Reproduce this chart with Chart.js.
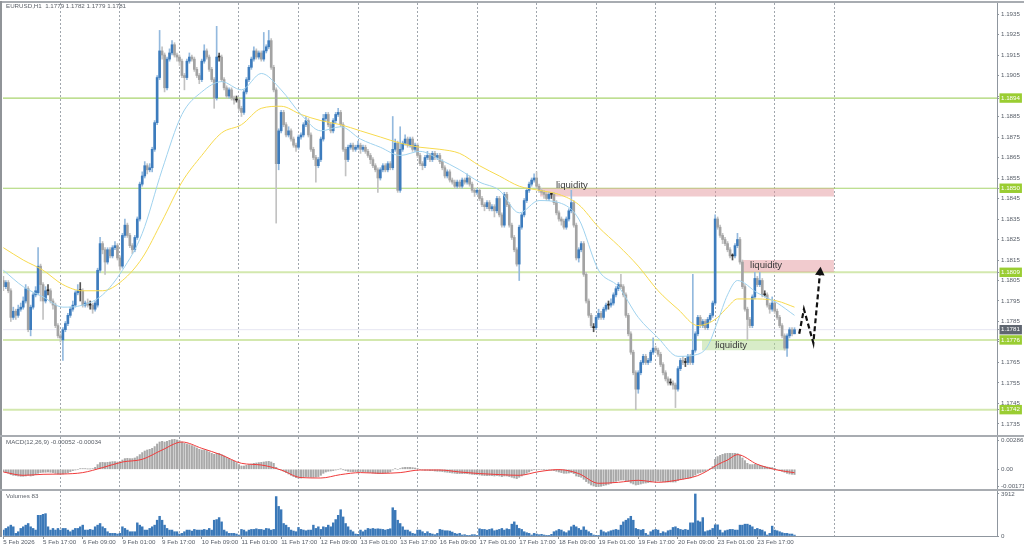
<!DOCTYPE html>
<html>
<head>
<meta charset="utf-8">
<title>EURUSD,H1</title>
<script src="https://cdn.jsdelivr.net/npm/chart.js@4.4.1/dist/chart.umd.min.js"></script>
<style>
  html, body { margin: 0; padding: 0; background: #fff; }
  #wrap { position: relative; width: 1024px; height: 551px; overflow: hidden; background: #fff; }
  #wrap canvas { position: absolute; left: 0; }
  .rule { position: absolute; background: #a8acb1; }
</style>
</head>
<body>
<div id="wrap">
  <canvas id="priceChart" width="1024" height="435" style="top:0"></canvas>
  <canvas id="macdChart" width="1024" height="52" style="top:437px"></canvas>
  <canvas id="volumeChart" width="1024" height="60" style="top:491px"></canvas>
  <div class="rule" style="left:0;top:1px;width:1024px;height:2px"></div>
  <div class="rule" style="left:0;top:1px;width:2px;height:536px;background:#909498"></div>
  <div class="rule" style="left:0;top:435px;width:1024px;height:2px"></div>
  <div class="rule" style="left:0;top:489px;width:1024px;height:2px"></div>
</div>
<script>
// EURUSD H1 candles, one entry per bar
const opens = [
  1.1805,1.1802,1.1804,1.1800,1.1787,1.1790,1.1788,1.1791,1.1792,1.1795,
  1.1801,1.1781,1.1792,1.1798,1.1799,1.1812,1.1803,1.1795,1.1800,1.1800,
  1.1795,1.1793,1.1783,1.1778,1.1776,1.1781,1.1784,1.1788,1.1791,1.1793,
  1.1799,1.1800,1.1800,1.1793,1.1794,1.1793,1.1793,1.1791,1.1793,1.1810,
  1.1823,1.1820,1.1814,1.1820,1.1817,1.1821,1.1822,1.1816,1.1812,1.1827,
  1.1832,1.1827,1.1822,1.1820,1.1826,1.1835,1.1852,1.1856,1.1861,1.1859,
  1.1860,1.1869,1.1882,1.1904,1.1917,1.1915,1.1899,1.1913,1.1916,1.1920,
  1.1915,1.1914,1.1912,1.1905,1.1904,1.1912,1.1914,1.1913,1.1908,1.1905,
  1.1903,1.1912,1.1917,1.1914,1.1908,1.1903,1.1894,1.1914,1.1914,1.1903,
  1.1899,1.1895,1.1898,1.1894,1.1893,1.1893,1.1889,1.1887,1.1897,1.1903,
  1.1909,1.1913,1.1917,1.1914,1.1916,1.1913,1.1917,1.1919,1.1922,1.1909,
  1.1898,1.1862,1.1878,1.1887,1.1881,1.1876,1.1878,1.1874,1.1871,1.1870,
  1.1875,1.1876,1.1881,1.1883,1.1876,1.1869,1.1865,1.1861,1.1864,1.1874,
  1.1884,1.1886,1.1881,1.1878,1.1883,1.1886,1.1887,1.1881,1.1869,1.1864,
  1.1870,1.1871,1.1869,1.1870,1.1871,1.1869,1.1870,1.1868,1.1866,1.1864,
  1.1861,1.1859,1.1855,1.1859,1.1861,1.1859,1.1862,1.1860,1.1869,1.1872,
  1.1849,1.1869,1.1872,1.1874,1.1871,1.1874,1.1869,1.1871,1.1866,1.1862,
  1.1861,1.1865,1.1866,1.1864,1.1867,1.1865,1.1866,1.1863,1.1860,1.1856,
  1.1858,1.1854,1.1853,1.1851,1.1853,1.1851,1.1854,1.1853,1.1855,1.1852,
  1.1849,1.1848,1.1849,1.1845,1.1842,1.1841,1.1843,1.1840,1.1841,1.1839,
  1.1845,1.1837,1.1832,1.1847,1.1842,1.1832,1.1826,1.1820,1.1813,1.1831,
  1.1837,1.1844,1.1849,1.1852,1.1854,1.1855,1.1851,1.1849,1.1848,1.1847,
  1.1845,1.1847,1.1847,1.1843,1.1838,1.1835,1.1834,1.1831,1.1835,1.1839,
  1.1843,1.1832,1.1816,1.1820,1.1823,1.1808,1.1795,1.1788,1.1782,1.1782,
  1.1787,1.1789,1.1787,1.1791,1.1793,1.1793,1.1794,1.1798,1.1801,1.1803,
  1.1802,1.1798,1.1788,1.1779,1.1770,1.1760,1.1752,1.1760,1.1765,1.1768,
  1.1765,1.1766,1.1770,1.1772,1.1771,1.1769,1.1764,1.1760,1.1757,1.1755,
  1.1755,1.1754,1.1752,1.1762,1.1766,1.1765,1.1765,1.1768,1.1765,1.1771,
  1.1779,1.1787,1.1783,1.1785,1.1782,1.1786,1.1788,1.1794,1.1835,1.1831,
  1.1827,1.1825,1.1823,1.1820,1.1817,1.1817,1.1822,1.1825,1.1814,1.1802,
  1.1791,1.1786,1.1783,1.1797,1.1806,1.1803,1.1805,1.1798,1.1798,1.1793,
  1.1791,1.1794,1.1790,1.1787,1.1783,1.1778,1.1772,1.1778,1.1781,1.1779
];
const highs = [
  1.1807,1.1805,1.1805,1.1801,1.1792,1.1791,1.1793,1.1794,1.1797,1.1803,
  1.1802,1.1793,1.1799,1.1802,1.1821,1.1813,1.1804,1.1802,1.1803,1.1801,
  1.1796,1.1794,1.1784,1.1779,1.1782,1.1785,1.1789,1.1792,1.1795,1.1800,
  1.1803,1.1804,1.1801,1.1795,1.1796,1.1795,1.1794,1.1795,1.1811,1.1826,
  1.1824,1.1821,1.1821,1.1821,1.1822,1.1824,1.1823,1.1817,1.1828,1.1835,
  1.1833,1.1828,1.1823,1.1827,1.1836,1.1853,1.1858,1.1863,1.1862,1.1862,
  1.1870,1.1883,1.1905,1.1927,1.1919,1.1916,1.1914,1.1918,1.1922,1.1921,
  1.1916,1.1915,1.1913,1.1906,1.1913,1.1916,1.1915,1.1914,1.1909,1.1906,
  1.1913,1.1920,1.1918,1.1915,1.1909,1.1904,1.1929,1.1916,1.1915,1.1904,
  1.1900,1.1899,1.1899,1.1895,1.1895,1.1894,1.1890,1.1898,1.1904,1.1910,
  1.1914,1.1919,1.1918,1.1917,1.1917,1.1926,1.1920,1.1927,1.1923,1.1910,
  1.1899,1.1879,1.1888,1.1888,1.1882,1.1880,1.1879,1.1875,1.1872,1.1876,
  1.1877,1.1882,1.1885,1.1884,1.1877,1.1870,1.1866,1.1865,1.1875,1.1886,
  1.1887,1.1887,1.1882,1.1884,1.1887,1.1889,1.1888,1.1882,1.1870,1.1871,
  1.1872,1.1872,1.1871,1.1873,1.1872,1.1871,1.1871,1.1869,1.1867,1.1865,
  1.1862,1.1860,1.1860,1.1862,1.1862,1.1863,1.1863,1.1885,1.1874,1.1873,
  1.1880,1.1873,1.1876,1.1875,1.1875,1.1875,1.1872,1.1872,1.1867,1.1863,
  1.1866,1.1868,1.1867,1.1868,1.1868,1.1867,1.1867,1.1864,1.1861,1.1859,
  1.1859,1.1855,1.1854,1.1854,1.1854,1.1855,1.1855,1.1857,1.1856,1.1853,
  1.1850,1.1850,1.1850,1.1846,1.1843,1.1844,1.1844,1.1842,1.1842,1.1846,
  1.1846,1.1838,1.1848,1.1848,1.1843,1.1833,1.1827,1.1821,1.1832,1.1838,
  1.1845,1.1850,1.1853,1.1855,1.1857,1.1858,1.1852,1.1850,1.1849,1.1848,
  1.1848,1.1848,1.1848,1.1844,1.1839,1.1836,1.1835,1.1836,1.1840,1.1849,
  1.1844,1.1833,1.1821,1.1824,1.1824,1.1809,1.1796,1.1789,1.1784,1.1788,
  1.1791,1.1790,1.1792,1.1794,1.1795,1.1796,1.1799,1.1802,1.1804,1.1808,
  1.1803,1.1799,1.1789,1.1780,1.1771,1.1761,1.1761,1.1766,1.1769,1.1769,
  1.1767,1.1771,1.1777,1.1773,1.1772,1.1770,1.1765,1.1761,1.1758,1.1757,
  1.1756,1.1755,1.1763,1.1767,1.1768,1.1767,1.1769,1.1769,1.1808,1.1780,
  1.1788,1.1788,1.1786,1.1786,1.1787,1.1789,1.1795,1.1837,1.1836,1.1832,
  1.1828,1.1826,1.1824,1.1821,1.1818,1.1823,1.1828,1.1826,1.1815,1.1803,
  1.1792,1.1787,1.1798,1.1809,1.1807,1.1809,1.1806,1.1800,1.1799,1.1794,
  1.1797,1.1795,1.1791,1.1788,1.1784,1.1779,1.1779,1.1782,1.1782,1.1782
];
const lows = [
  1.1800,1.1801,1.1799,1.1785,1.1786,1.1786,1.1787,1.1790,1.1791,1.1794,
  1.1780,1.1778,1.1791,1.1797,1.1798,1.1795,1.1786,1.1794,1.1798,1.1794,
  1.1791,1.1782,1.1777,1.1775,1.1766,1.1780,1.1783,1.1787,1.1790,1.1792,
  1.1798,1.1795,1.1792,1.1792,1.1792,1.1791,1.1789,1.1790,1.1792,1.1809,
  1.1818,1.1808,1.1813,1.1816,1.1816,1.1820,1.1815,1.1810,1.1811,1.1826,
  1.1826,1.1821,1.1818,1.1819,1.1825,1.1834,1.1851,1.1855,1.1857,1.1858,
  1.1858,1.1868,1.1881,1.1903,1.1913,1.1897,1.1898,1.1912,1.1915,1.1914,
  1.1912,1.1910,1.1904,1.1898,1.1903,1.1911,1.1912,1.1907,1.1904,1.1901,
  1.1902,1.1911,1.1913,1.1907,1.1902,1.1889,1.1893,1.1912,1.1902,1.1898,
  1.1894,1.1894,1.1893,1.1891,1.1892,1.1888,1.1885,1.1886,1.1896,1.1902,
  1.1908,1.1912,1.1913,1.1913,1.1912,1.1912,1.1916,1.1918,1.1908,1.1897,
  1.1833,1.1859,1.1877,1.1880,1.1875,1.1875,1.1873,1.1870,1.1868,1.1869,
  1.1874,1.1875,1.1880,1.1875,1.1868,1.1864,1.1853,1.1860,1.1863,1.1873,
  1.1883,1.1880,1.1877,1.1877,1.1882,1.1885,1.1880,1.1868,1.1856,1.1863,
  1.1869,1.1868,1.1868,1.1869,1.1867,1.1868,1.1867,1.1865,1.1862,1.1860,
  1.1858,1.1848,1.1854,1.1858,1.1858,1.1858,1.1859,1.1859,1.1868,1.1848,
  1.1848,1.1868,1.1871,1.1870,1.1870,1.1868,1.1868,1.1865,1.1861,1.1859,
  1.1860,1.1864,1.1863,1.1863,1.1864,1.1864,1.1862,1.1859,1.1855,1.1855,
  1.1853,1.1852,1.1850,1.1850,1.1850,1.1850,1.1852,1.1852,1.1851,1.1848,
  1.1846,1.1847,1.1844,1.1841,1.1839,1.1840,1.1839,1.1839,1.1836,1.1838,
  1.1836,1.1831,1.1831,1.1841,1.1831,1.1825,1.1819,1.1812,1.1805,1.1830,
  1.1836,1.1843,1.1848,1.1851,1.1853,1.1850,1.1848,1.1847,1.1845,1.1844,
  1.1844,1.1845,1.1842,1.1837,1.1834,1.1832,1.1830,1.1830,1.1834,1.1838,
  1.1831,1.1815,1.1814,1.1819,1.1807,1.1794,1.1787,1.1782,1.1780,1.1781,
  1.1786,1.1786,1.1786,1.1790,1.1791,1.1792,1.1793,1.1797,1.1800,1.1801,
  1.1797,1.1787,1.1778,1.1769,1.1759,1.1742,1.1750,1.1759,1.1764,1.1764,
  1.1764,1.1765,1.1769,1.1770,1.1768,1.1763,1.1759,1.1756,1.1754,1.1754,
  1.1752,1.1743,1.1751,1.1761,1.1764,1.1763,1.1764,1.1764,1.1764,1.1770,
  1.1778,1.1782,1.1782,1.1781,1.1781,1.1785,1.1787,1.1793,1.1830,1.1826,
  1.1823,1.1822,1.1819,1.1816,1.1815,1.1816,1.1821,1.1813,1.1801,1.1790,
  1.1776,1.1782,1.1782,1.1796,1.1802,1.1802,1.1797,1.1797,1.1792,1.1789,
  1.1790,1.1789,1.1786,1.1782,1.1777,1.1771,1.1768,1.1777,1.1778,1.1779
];
const closes = [
  1.1802,1.1804,1.1800,1.1787,1.1790,1.1788,1.1791,1.1792,1.1795,1.1801,
  1.1781,1.1792,1.1798,1.1800,1.1812,1.1803,1.1795,1.1800,1.1800,1.1795,
  1.1793,1.1783,1.1778,1.1777,1.1781,1.1784,1.1788,1.1791,1.1793,1.1799,
  1.1800,1.1800,1.1793,1.1794,1.1793,1.1793,1.1791,1.1794,1.1810,1.1823,
  1.1820,1.1814,1.1820,1.1817,1.1821,1.1822,1.1816,1.1812,1.1827,1.1832,
  1.1827,1.1822,1.1820,1.1826,1.1835,1.1852,1.1856,1.1861,1.1859,1.1860,
  1.1869,1.1882,1.1904,1.1917,1.1915,1.1899,1.1913,1.1916,1.1920,1.1915,
  1.1914,1.1912,1.1905,1.1904,1.1912,1.1914,1.1913,1.1908,1.1905,1.1903,
  1.1912,1.1917,1.1914,1.1908,1.1903,1.1894,1.1914,1.1914,1.1903,1.1899,
  1.1895,1.1898,1.1894,1.1893,1.1893,1.1889,1.1887,1.1897,1.1903,1.1909,
  1.1913,1.1917,1.1914,1.1916,1.1913,1.1917,1.1919,1.1922,1.1909,1.1898,
  1.1862,1.1878,1.1887,1.1881,1.1876,1.1878,1.1874,1.1871,1.1870,1.1875,
  1.1876,1.1881,1.1883,1.1876,1.1869,1.1865,1.1861,1.1864,1.1874,1.1884,
  1.1886,1.1881,1.1878,1.1883,1.1886,1.1887,1.1881,1.1869,1.1864,1.1870,
  1.1871,1.1869,1.1870,1.1871,1.1869,1.1870,1.1868,1.1866,1.1864,1.1861,
  1.1859,1.1855,1.1859,1.1861,1.1859,1.1862,1.1860,1.1869,1.1872,1.1849,
  1.1869,1.1872,1.1874,1.1871,1.1874,1.1869,1.1871,1.1866,1.1862,1.1861,
  1.1865,1.1866,1.1864,1.1867,1.1865,1.1866,1.1863,1.1860,1.1856,1.1858,
  1.1854,1.1853,1.1851,1.1853,1.1851,1.1854,1.1853,1.1855,1.1852,1.1849,
  1.1848,1.1849,1.1845,1.1842,1.1841,1.1843,1.1840,1.1841,1.1839,1.1845,
  1.1837,1.1832,1.1847,1.1842,1.1832,1.1826,1.1820,1.1813,1.1831,1.1837,
  1.1844,1.1849,1.1852,1.1854,1.1855,1.1851,1.1849,1.1848,1.1847,1.1845,
  1.1847,1.1847,1.1843,1.1838,1.1835,1.1834,1.1831,1.1835,1.1839,1.1843,
  1.1832,1.1816,1.1820,1.1823,1.1808,1.1795,1.1788,1.1783,1.1782,1.1787,
  1.1789,1.1787,1.1791,1.1793,1.1793,1.1794,1.1798,1.1801,1.1803,1.1802,
  1.1798,1.1788,1.1779,1.1770,1.1760,1.1752,1.1760,1.1765,1.1768,1.1765,
  1.1766,1.1770,1.1772,1.1771,1.1769,1.1764,1.1760,1.1757,1.1755,1.1755,
  1.1754,1.1752,1.1762,1.1766,1.1765,1.1765,1.1768,1.1765,1.1771,1.1779,
  1.1787,1.1783,1.1785,1.1782,1.1786,1.1788,1.1794,1.1835,1.1831,1.1827,
  1.1825,1.1823,1.1820,1.1817,1.1817,1.1822,1.1825,1.1814,1.1802,1.1791,
  1.1786,1.1783,1.1797,1.1806,1.1803,1.1805,1.1798,1.1798,1.1793,1.1791,
  1.1794,1.1790,1.1787,1.1783,1.1778,1.1772,1.1778,1.1781,1.1779,1.1781
];
const volumes = [
  551,704,857,1010,857,245,398,704,857,1010,
  1163,857,704,551,1928,1928,2020,2081,857,551,
  704,551,704,551,704,704,551,398,551,704,
  704,857,1010,551,551,612,551,857,1010,1163,
  857,704,398,245,245,245,184,245,857,704,
  551,398,398,398,1224,1010,857,551,551,704,
  857,1010,1469,1836,1469,1010,704,551,551,398,
  398,184,245,398,551,551,459,612,551,551,
  551,612,551,704,551,1469,1530,1714,1316,551,
  398,245,245,245,184,92,612,551,398,551,
  612,612,673,612,612,551,704,673,551,612,
  3672,2754,2448,1163,1010,796,551,459,398,796,
  612,551,490,551,551,1010,704,857,612,857,
  796,1010,857,1224,1530,1928,2448,1775,1163,857,
  551,398,184,153,551,398,551,704,643,704,
  643,673,643,612,551,612,673,2632,2387,1469,
  1163,857,551,551,398,245,184,551,551,398,
  245,398,245,184,122,245,612,551,490,490,
  459,367,245,184,245,92,122,61,61,122,
  122,61,673,612,612,551,612,673,490,551,
  612,704,551,673,612,1102,1316,1010,704,612,
  398,306,245,92,245,184,122,153,92,61,
  61,153,398,490,612,551,398,306,490,857,
  1010,857,704,551,857,551,398,245,92,61,
  61,551,398,306,398,490,551,612,551,1010,
  1316,1469,1622,1836,1469,704,612,551,612,245,
  92,398,551,612,551,245,398,306,490,551,
  796,857,704,612,551,612,551,1224,1224,3912,
  1408,1316,1714,398,490,551,704,1040,1040,551,
  306,490,551,612,612,551,551,1010,1010,1102,
  1102,1010,857,612,704,612,551,398,92,245,
  918,551,490,398,306,245,245,184,184,83
];
const macdHist = [
  -0.00023,-0.0003,-0.0004,-0.00053,-0.0006,-0.00063,-0.00067,-0.0007,-0.0007,-0.00067,
  -0.0006,-0.00067,-0.00063,-0.00053,-0.0004,-0.00033,-0.0003,-0.0003,-0.00027,-0.0003,
  -0.00033,-0.0004,-0.00047,-0.0005,-0.00047,-0.0004,-0.00033,-0.00023,-0.00013,-0.00007,
  0,0.00007,0.00007,0.00007,0.00003,0.00003,0.00007,0.0002,0.00047,0.00067,
  0.0007,0.00067,0.0007,0.00073,0.00077,0.00077,0.00073,0.00077,0.00093,0.00107,
  0.0011,0.00107,0.00107,0.00113,0.00127,0.00147,0.00167,0.00183,0.00193,0.002,
  0.0021,0.00227,0.00253,0.00273,0.0028,0.00273,0.0028,0.0029,0.00297,0.003,
  0.00293,0.00287,0.00273,0.0026,0.00253,0.00247,0.00237,0.00227,0.00213,0.002,
  0.00193,0.00193,0.00187,0.00173,0.0016,0.0015,0.0016,0.0016,0.00147,0.00133,
  0.0012,0.00107,0.00093,0.0008,0.00067,0.00047,0.00033,0.00033,0.0004,0.00047,
  0.00053,0.0006,0.00063,0.00067,0.0007,0.00073,0.00077,0.0008,0.00073,0.0006,
  0.0002,0,-0.00007,-0.0002,-0.00033,-0.00047,-0.0006,-0.00073,-0.00083,-0.0009,
  -0.00087,-0.0008,-0.00073,-0.00077,-0.0008,-0.0008,-0.00077,-0.00073,-0.0006,-0.0004,
  -0.00027,-0.0002,-0.00017,-0.00013,-0.00007,0,0.00003,-0.00003,-0.00013,-0.0002,
  -0.00023,-0.00023,-0.00023,-0.00023,-0.00023,-0.00023,-0.00027,-0.0003,-0.00033,-0.00037,
  -0.0004,-0.00043,-0.00043,-0.0004,-0.00037,-0.00033,-0.00027,-0.00007,0.00007,0,
  0.00007,0.00017,0.0002,0.0002,0.0002,0.00017,0.00013,0.00007,0,-0.00007,
  -0.0001,-0.0001,-0.00013,-0.00013,-0.00017,-0.0002,-0.0002,-0.00023,-0.00027,-0.0003,
  -0.00033,-0.00037,-0.0004,-0.00043,-0.00043,-0.00043,-0.00043,-0.00043,-0.00047,-0.0005,
  -0.00053,-0.00053,-0.00057,-0.0006,-0.00063,-0.00063,-0.00063,-0.00063,-0.00067,-0.00063,
  -0.00067,-0.00073,-0.00067,-0.00067,-0.00073,-0.0008,-0.00087,-0.00093,-0.0008,-0.00067,
  -0.00053,-0.0004,-0.00027,-0.00013,-0.00003,0,0,0,-0.00003,-0.00007,
  -0.00007,-0.0001,-0.00013,-0.0002,-0.00027,-0.00033,-0.0004,-0.0004,-0.00037,-0.00033,
  -0.00043,-0.00067,-0.00073,-0.0008,-0.001,-0.00123,-0.0014,-0.00157,-0.00167,-0.00173,
  -0.00173,-0.0017,-0.00163,-0.00157,-0.0015,-0.0014,-0.0013,-0.0012,-0.00113,-0.00107,
  -0.00107,-0.00113,-0.00123,-0.00137,-0.00147,-0.00157,-0.00153,-0.00147,-0.0014,-0.00137,
  -0.00133,-0.00127,-0.0012,-0.00117,-0.00117,-0.0012,-0.00123,-0.00127,-0.00127,-0.00127,
  -0.00127,-0.00127,-0.00113,-0.00103,-0.00097,-0.00093,-0.0009,-0.00087,-0.00073,-0.00057,
  -0.0004,-0.00033,-0.00027,-0.0002,-0.0001,0.00007,0.00027,0.001,0.00127,0.0014,
  0.0015,0.00157,0.0016,0.0016,0.0016,0.0016,0.00157,0.0014,0.00113,0.00087,
  0.0006,0.00047,0.00047,0.0005,0.00047,0.0004,0.00033,0.0003,0.00023,0.0002,
  0.00017,0.0001,0,-0.0001,-0.0002,-0.0003,-0.0004,-0.00047,-0.0005,-0.00052
];

// moving averages and MACD signal, read at these bars
const maBars = [0,8,16,24,32,40,48,56,64,72,80,88,96,104,112,120,128,136,144,152,160,168,176,184,192,200,208,216,224,232,240,248,256,264,272,280,284,288,292,296,304,312,319];
const maFast = [1.1810,1.1802,1.1797,1.1792,1.1793,1.1798,1.1810,1.1828,1.1859,1.1886,1.1897,1.1902,1.1898,1.1906,1.1898,1.1886,1.1878,1.1880,1.1874,1.1870,1.1866,1.1868,1.1864,1.1859,1.1853,1.1849,1.1838,1.1844,1.1843,1.1835,1.1810,1.1802,1.1787,1.1777,1.1768,1.1769,1.1773,1.1785,1.1798,1.1805,1.1799,1.1794,1.1788];
const maSlow = [1.1821,1.1815,1.1810,1.1803,1.1800,1.1800,1.1805,1.1816,1.1834,1.1853,1.1866,1.1877,1.1881,1.1889,1.1890,1.1886,1.1883,1.1881,1.1878,1.1875,1.1872,1.1870,1.1869,1.1867,1.1861,1.1856,1.1851,1.1849,1.1847,1.1842,1.1831,1.1822,1.1812,1.1800,1.1791,1.1783,1.1784,1.1787,1.1792,1.1796,1.1796,1.1795,1.1792];
const macdSignal = [-0.00027,-0.0006,-0.0005,-0.00047,-0.00033,0.00017,0.00073,0.001,0.00193,0.00273,0.0021,0.00143,0.0006,0.00043,-0.00007,-0.00083,-0.00087,-0.00053,-0.00033,-0.0004,-0.00033,-0.00007,-0.00007,-0.00027,-0.00043,-0.00053,-0.0006,-0.00023,-0.00003,-0.00043,-0.0014,-0.0013,-0.0011,-0.0013,-0.00107,-0.00063,-0.00013,0.00047,0.00093,0.00147,0.0005,-0.00007,-0.00034];

// axes
const timeLabels = ["5 Feb 2026","5 Feb 17:00","6 Feb 09:00","9 Feb 01:00","9 Feb 17:00","10 Feb 09:00","11 Feb 01:00","11 Feb 17:00","12 Feb 09:00","13 Feb 01:00","13 Feb 17:00","16 Feb 09:00","17 Feb 01:00","17 Feb 17:00","18 Feb 09:00","19 Feb 01:00","19 Feb 17:00","20 Feb 09:00","23 Feb 01:00","23 Feb 17:00"];
const labelBars = [0,16,32,48,64,80,96,112,128,144,160,176,192,208,224,240,256,272,288,304];
const gridBars = [23,47,71,95,119,143,167,191,215,239,263,287,311,335];
const priceTicks = [1.1735,1.1745,1.1755,1.1765,1.1775,1.1785,1.1795,1.1805,1.1815,1.1825,1.1835,1.1845,1.1855,1.1865,1.1875,1.1885,1.1895,1.1905,1.1915,1.1925,1.1935];
const macdTicks = [0.00286, 0, -0.00171];
const volumeTicks = [3912, 0];

// drawn objects
const levels = [1.1894, 1.1850, 1.1809, 1.1776, 1.1742];
const zoneFrom = [216.4, 297.8, 281.7];
const zoneTo = [334.9, 334.9, 316.0];
const zoneTop = [1.1850, 1.1815, 1.1776];
const zoneBottom = [1.1846, 1.1809, 1.1771];
const noteText = ["liquidity", "liquidity", "liquidity"];
const noteBar = [222.8, 301.1, 287.0];
const notePrice = [1.1850, 1.1811, 1.1772];
const arrowBars = [320.9, 322.8, 326.6, 329.3];
const arrowPrices = [1.1779, 1.1791, 1.17745, 1.1809];

const X_MIN = -0.15, X_MAX = 400.65;
const FONT = '"Liberation Sans", Arial, sans-serif';
const AXIS_TEXT = '#565d67';
const AXIS_LINE = '#8f969e';
const BULL = '#3d7cbd', BEAR = '#a3a3a3', DOJI = '#222222';
const lastClose = closes[closes.length - 1];

Chart.defaults.font.family = FONT;
Chart.defaults.font.size = 6.2;
Chart.defaults.color = AXIS_TEXT;

const captionPlugin = {
  id: 'caption',
  afterDraw(chart, args, opts) {
    const ctx = chart.ctx;
    ctx.save();
    ctx.font = '6.2px ' + FONT;
    ctx.fillStyle = '#5b6068';
    ctx.textBaseline = 'middle';
    ctx.fillText(opts.text, opts.x, opts.y);
    ctx.restore();
  }
};

const notesPlugin = {
  id: 'notes',
  afterDatasetsDraw(chart) {
    const {ctx, scales} = chart;
    ctx.save();
    ctx.font = '9.6px ' + FONT;
    ctx.fillStyle = '#3c3c3c';
    ctx.textBaseline = 'alphabetic';
    noteText.forEach((t, i) => {
      ctx.fillText(t, scales.x.getPixelForValue(noteBar[i]), scales.y.getPixelForValue(notePrice[i]));
    });
    ctx.restore();
  }
};

function gridAxis() {
  return {
    type: 'linear', min: X_MIN, max: X_MAX, offset: false,
    afterBuildTicks: s => { s.ticks = gridBars.map(v => ({ value: v })); },
    afterFit: s => { s.height = 0; s.paddingLeft = 0; s.paddingRight = 0; },
    ticks: { display: false },
    grid: { offset: false, color: '#a0a6ad', lineWidth: 1, drawTicks: false },
    border: { display: false, dash: [2, 2] }
  };
}

function valueAxis(min, max, values, format) {
  return {
    type: 'linear', position: 'right', min: min, max: max,
    afterBuildTicks: s => { s.ticks = values.map(v => ({ value: v })); },
    afterFit: s => { s.width = 27; s.paddingTop = 0; s.paddingBottom = 0; },
    ticks: { autoSkip: false, padding: 2, callback: format, color: AXIS_TEXT },
    grid: { drawOnChartArea: false, drawTicks: true, tickLength: 2, tickColor: AXIS_LINE },
    border: { display: true, color: AXIS_LINE, width: 1 }
  };
}

function tagFill(v) {
  if (levels.includes(v)) return '#9acd32';
  if (v === lastClose) return '#5f6670';
  return null;
}

const baseOptions = {
  responsive: false,
  animation: false,
  events: [],
  plugins: { legend: { display: false }, tooltip: { enabled: false } }
};

// ---- price panel
const lineSet = (data, color, width, order, extra) => Object.assign({
  type: 'line', data: data, borderColor: color, borderWidth: width,
  pointRadius: 0, fill: false, order: order
}, extra || {});

const priceSets = [];
zoneFrom.forEach((f, i) => {
  const fillCol = i < 2 ? 'rgba(226,146,152,0.48)' : 'rgba(178,218,146,0.5)';
  priceSets.push(lineSet([{ x: f, y: zoneTop[i] }, { x: zoneTo[i], y: zoneTop[i] }], 'rgba(0,0,0,0)', 0, 8));
  priceSets.push(lineSet([{ x: f, y: zoneBottom[i] }, { x: zoneTo[i], y: zoneBottom[i] }], 'rgba(0,0,0,0)', 0, 8,
    { fill: '-1', backgroundColor: fillCol }));
});
levels.forEach((p, i) => {
  priceSets.push(lineSet([{ x: X_MIN, y: p }, { x: X_MAX, y: p }],
    i < 2 ? '#a9d46e' : '#d3e8ae', i < 2 ? 1.2 : 2, 9));
});
priceSets.push(lineSet([{ x: X_MIN, y: lastClose }, { x: X_MAX, y: lastClose }], '#e6e6f2', 1, 9));
priceSets.push({
  type: 'bar', order: 5, grouped: false, barThickness: 1, borderWidth: 0,
  data: opens.map((o, i) => ({ x: i, y: [lows[i], highs[i]] })),
  backgroundColor: opens.map((o, i) => closes[i] > o ? '#93b9de' : closes[i] < o ? '#c2c2c2' : '#555555')
});
priceSets.push({
  type: 'bar', order: 4, grouped: false, barThickness: 2, borderWidth: 0, minBarLength: 1,
  data: opens.map((o, i) => ({ x: i, y: [o, closes[i]] })),
  backgroundColor: opens.map((o, i) => closes[i] > o ? BULL : closes[i] < o ? BEAR : DOJI)
});
priceSets.push(lineSet(maBars.map((b, i) => ({ x: b, y: maSlow[i] })), '#f7da4e', 1, 3, { cubicInterpolationMode: 'monotone' }));
priceSets.push(lineSet(maBars.map((b, i) => ({ x: b, y: maFast[i] })), '#9fd2ee', 1, 2, { cubicInterpolationMode: 'monotone' }));
priceSets.push(lineSet(arrowBars.map((b, i) => ({ x: b, y: arrowPrices[i] })), '#111111', 2.2, 1, {
  borderDash: [5, 3],
  pointRadius: arrowBars.map((b, i) => i === arrowBars.length - 1 ? 5.5 : 0),
  pointStyle: 'triangle', pointRotation: 5,
  pointBackgroundColor: '#111111', pointBorderWidth: 0
}));

const priceY = valueAxis(1.173012, 1.194037, priceTicks.concat(levels, [lastClose]), v => v.toFixed(4));
priceY.ticks.color = c => tagFill(c.tick.value) ? '#ffffff' : AXIS_TEXT;
priceY.ticks.showLabelBackdrop = c => !!tagFill(c.tick.value);
priceY.ticks.backdropColor = c => tagFill(c.tick.value) || 'rgba(0,0,0,0)';
priceY.ticks.backdropPadding = { left: 1.5, right: 2, top: 1, bottom: 1 };

new Chart(document.getElementById('priceChart'), {
  type: 'bar',
  data: { datasets: priceSets },
  options: Object.assign({}, baseOptions, {
    layout: { autoPadding: false, padding: { left: 3, top: 3, right: 0, bottom: 1 } },
    scales: { x: gridAxis(), y: priceY },
    plugins: Object.assign({}, baseOptions.plugins, {
      caption: {
        text: 'EURUSD,H1  ' + [opens, highs, lows, closes].map(a => a[a.length - 1].toFixed(4)).join(' '),
        x: 6, y: 6.7
      }
    })
  }),
  plugins: [captionPlugin, notesPlugin]
});

// ---- MACD panel
new Chart(document.getElementById('macdChart'), {
  type: 'bar',
  data: {
    datasets: [
      lineSet(maBars.map((b, i) => ({ x: b, y: macdSignal[i] })), '#f03b3b', 1, 1, { cubicInterpolationMode: 'monotone' }),
      {
        type: 'bar', order: 2, grouped: false, barThickness: 1.4, borderWidth: 0,
        data: macdHist.map((v, i) => ({ x: i, y: v })),
        backgroundColor: '#a9a9a9'
      }
    ]
  },
  options: Object.assign({}, baseOptions, {
    layout: { autoPadding: false, padding: { left: 3, top: 0, right: 0, bottom: 0 } },
    scales: {
      x: gridAxis(),
      y: valueAxis(-0.00197, 0.00323, macdTicks, v => v === 0 ? '0.00' : v.toFixed(5))
    },
    plugins: Object.assign({}, baseOptions.plugins, {
      caption: {
        text: 'MACD(12,26,9) ' + macdHist[macdHist.length - 1].toFixed(5) + ' ' + macdSignal[macdSignal.length - 1].toFixed(5),
        x: 6, y: 5.7
      }
    })
  }),
  plugins: [captionPlugin]
});

// ---- Volume panel with the time axis
new Chart(document.getElementById('volumeChart'), {
  type: 'bar',
  data: {
    datasets: [{
      type: 'bar', grouped: false, barThickness: 1.8, borderWidth: 0,
      data: volumes.map((v, i) => ({ x: i, y: v })),
      backgroundColor: '#3a78b8'
    }]
  },
  options: Object.assign({}, baseOptions, {
    layout: { autoPadding: false, padding: { left: 3, top: 0, right: 0, bottom: 0 } },
    scales: {
      x: gridAxis(),
      xl: {
        type: 'linear', position: 'bottom', min: X_MIN, max: X_MAX, offset: false,
        afterBuildTicks: s => { s.ticks = labelBars.map(v => ({ value: v })); },
        afterFit: s => { s.height = 15; s.paddingLeft = 0; s.paddingRight = 0; },
        ticks: {
          autoSkip: false, maxRotation: 0, minRotation: 0, align: 'start', padding: 0,
          color: AXIS_TEXT, callback: (v, i) => timeLabels[i]
        },
        grid: { offset: false, drawOnChartArea: false, drawTicks: true, tickLength: 3, tickColor: AXIS_LINE },
        border: { display: true, color: AXIS_LINE, width: 1 }
      },
      y: valueAxis(0, 4191.4, volumeTicks, v => String(v))
    },
    plugins: Object.assign({}, baseOptions.plugins, {
      caption: { text: 'Volumes ' + volumes[volumes.length - 1], x: 6, y: 5 }
    })
  }),
  plugins: [captionPlugin]
});
</script>
</body>
</html>
